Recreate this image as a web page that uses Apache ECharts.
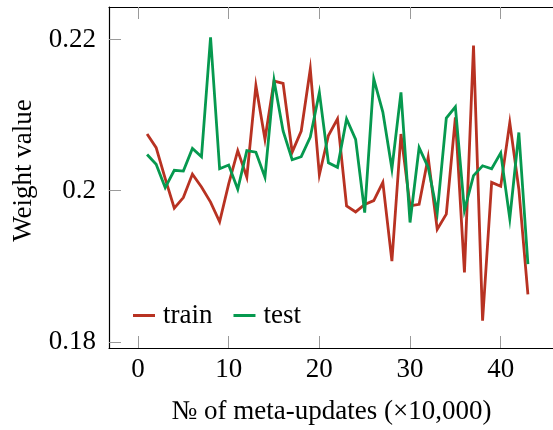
<!DOCTYPE html>
<html>
<head>
<meta charset="utf-8">
<script src="https://cdn.jsdelivr.net/npm/echarts@6/dist/echarts.min.js"></script>
<style>html,body{margin:0;padding:0;background:#fff}#c{width:553px;height:430px}</style>
</head>
<body>
<div id="c"></div>
<script>
const steps = [1,2,3,4,5,6,7,8,9,10,11,12,13,14,15,16,17,18,19,20,21,22,23,24,25,26,27,28,29,30,31,32,33,34,35,36,37,38,39,40,41,42,43];
const train = [0.2075,0.2057,0.2016,0.1977,0.1991,0.2022,0.2005,0.1985,0.1959,0.2009,0.2053,0.2018,0.2139,0.2068,0.2145,0.2142,0.2051,0.2079,0.2161,0.2021,0.2073,0.2095,0.1980,0.1972,0.1982,0.1987,0.2011,0.1907,0.2075,0.1980,0.1982,0.2044,0.1949,0.1969,0.2097,0.1892,0.2192,0.1828,0.2011,0.2006,0.2090,0.2002,0.1863];
const test = [0.2048,0.2035,0.2004,0.2027,0.2026,0.2056,0.2045,0.2203,0.2029,0.2034,0.2002,0.2053,0.2051,0.2018,0.2146,0.2079,0.2041,0.2045,0.2071,0.2130,0.2037,0.2031,0.2095,0.2068,0.1971,0.2148,0.2104,0.2029,0.2130,0.1958,0.2057,0.2031,0.1971,0.2096,0.2111,0.1974,0.2020,0.2033,0.2029,0.2050,0.1963,0.2077,0.1903];
const xTicks = [0,10,20,30,40];
const yTicks = [0.18,0.2,0.22];
const xLabel = '№ of meta-updates (×10,000)';
const yLabel = 'Weight value';

const font = 'Liberation Serif';
const fs = 27;
const chart = echarts.init(document.getElementById('c'), null, {renderer:'canvas'});
const tickStyle = {show:true, inside:true, length:12, lineStyle:{color:'#9a9a9a', width:1}};
const xTick = Object.assign({customValues:xTicks}, tickStyle);
const yTick = Object.assign({customValues:yTicks}, tickStyle);
chart.setOption({
  animation:false,
  backgroundColor:'#fff',
  grid:{left:109, top:7, width:457, height:341, show:false, outerBoundsMode:'none', containLabel:false},
  legend:{
    left:128, top:297, itemWidth:22, itemHeight:3, itemGap:21,
    icon:'rect',
    textStyle:{fontFamily:font, fontSize:fs, color:'#000', padding:[0,0,0,3]},
    data:['train','test']
  },
  xAxis:[{
    type:'value', min:-3.2, max:47.2,
    axisLine:{show:true, onZero:false, lineStyle:{color:'#000', width:1.2}},
    axisTick:xTick,
    axisLabel:{customValues:xTicks, fontFamily:font, fontSize:fs, color:'#000', margin:8},
    splitLine:{show:false},
    name:xLabel, nameLocation:'middle', nameGap:50,
    nameTextStyle:{fontFamily:font, fontSize:fs, color:'#000', padding:[0,12,0,0]}
  },{
    type:'value', min:-3.2, max:47.2, position:'top',
    axisLine:{show:true, onZero:false, lineStyle:{color:'#000', width:1.2}},
    axisTick:xTick, axisLabel:{show:false}, splitLine:{show:false}
  }],
  yAxis:[{
    type:'value', min:0.1792, max:0.2243,
    axisLine:{show:true, onZero:false, lineStyle:{color:'#000', width:1.2}},
    axisTick:yTick,
    axisLabel:{customValues:yTicks, fontFamily:font, fontSize:fs, color:'#000', margin:13,
      formatter:v=>String(+v.toFixed(3))},
    splitLine:{show:false},
    name:yLabel, nameLocation:'middle', nameGap:70, nameRotate:90,
    nameTextStyle:{fontFamily:font, fontSize:fs, color:'#000', padding:[0,0,0,14]}
  },{
    type:'value', min:0.1792, max:0.2243, position:'right',
    axisLine:{show:true, onZero:false, lineStyle:{color:'#000', width:1.2}},
    axisTick:yTick, axisLabel:{show:false}, splitLine:{show:false}
  }],
  series:[
    {name:'train', type:'line', data:steps.map((s,i)=>[s,train[i]]), showSymbol:false, symbol:'none',
     color:'#b83222', lineStyle:{width:2.8, color:'#b83222', join:'miter', cap:'butt'}},
    {name:'test', type:'line', data:steps.map((s,i)=>[s,test[i]]), showSymbol:false, symbol:'none',
     color:'#06994f', lineStyle:{width:2.8, color:'#06994f', join:'miter', cap:'butt'}}
  ]
});
</script>
</body>
</html>
